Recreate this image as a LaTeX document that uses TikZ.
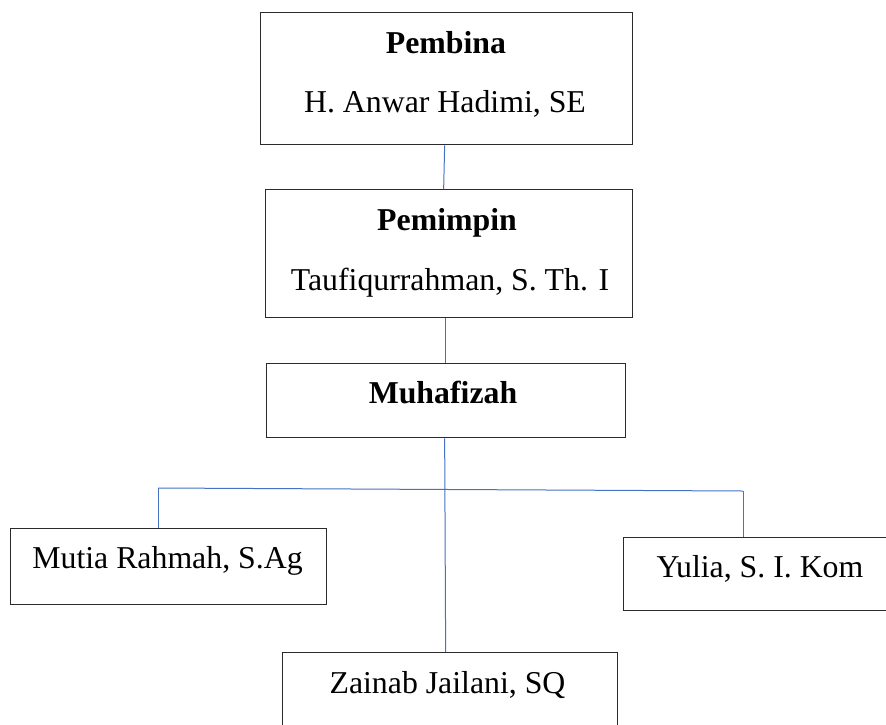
\documentclass[tikz,border=0pt]{standalone}
\usepackage{fontspec}
\setmainfont{Liberation Serif}
\definecolor{connblue}{HTML}{4472C4}
\definecolor{boxline}{HTML}{2B2B2B}
\begin{document}
\begin{tikzpicture}[x=1pt,y=-1pt,
  box/.style={draw=boxline,line width=1.3pt,rectangle,inner sep=0pt,anchor=north west},
  txt/.style={inner sep=0pt,anchor=base,font=\fontsize{31.8}{38}\selectfont},
  btxt/.style={inner sep=0pt,anchor=base,font=\fontsize{31.8}{38}\selectfont\bfseries},
  conn/.style={draw=connblue,line width=1pt}]
\useasboundingbox (0,0) rectangle (886,724);
\clip (0,0) rectangle (886,724);
% boxes
\node[box,minimum width=372pt,minimum height=132pt] (pembina) at (260,12) {};
\node[box,minimum width=367pt,minimum height=128pt] (pemimpin) at (265,189) {};
\node[box,minimum width=359pt,minimum height=74pt] (muhafizah) at (266,363) {};
\node[box,minimum width=316pt,minimum height=76pt] (mutia) at (10,528) {};
\node[box,minimum width=270pt,minimum height=73pt] (yulia) at (623,537) {};
\node[box,minimum width=335pt,minimum height=90pt] (zainab) at (282,652) {};
% texts
\node[btxt] (t1) at (446,53) {Pembina};
\node[txt] (t2) at (445,112) {H. Anwar Hadimi, SE};
\node[btxt] (t3) at (447,230) {Pemimpin};
\node[txt] (t4) at (450,290) {Taufiqurrahman, S. Th. I};
\node[btxt] (t5) at (443,403) {Muhafizah};
\node[txt] (t6) at (167.5,568) {Mutia Rahmah, S.Ag};
\node[txt] (t7) at (760,577) {Yulia, S. I. Kom};
\node[txt] (t8) at (447.5,693) {Zainab Jailani, SQ};
% connectors
\coordinate (hl) at (158,488);
\coordinate (hr) at (743,491);
\draw[conn] ([xshift=-2pt]pembina.south) -- ([xshift=-5.5pt]pemimpin.north);
\draw[conn] ([xshift=-3.5pt]pemimpin.south) -- ([xshift=-0.5pt]muhafizah.south |- muhafizah.north);
\draw[conn] ([xshift=-1.5pt]muhafizah.south) -- ([xshift=-4.5pt]zainab.north);
\draw[conn] (hl) -- (hr);
\draw[conn] (hl) -- (mutia.north -| hl);
\draw[conn] (hr) -- (yulia.north -| hr);
\end{tikzpicture}
\end{document}
